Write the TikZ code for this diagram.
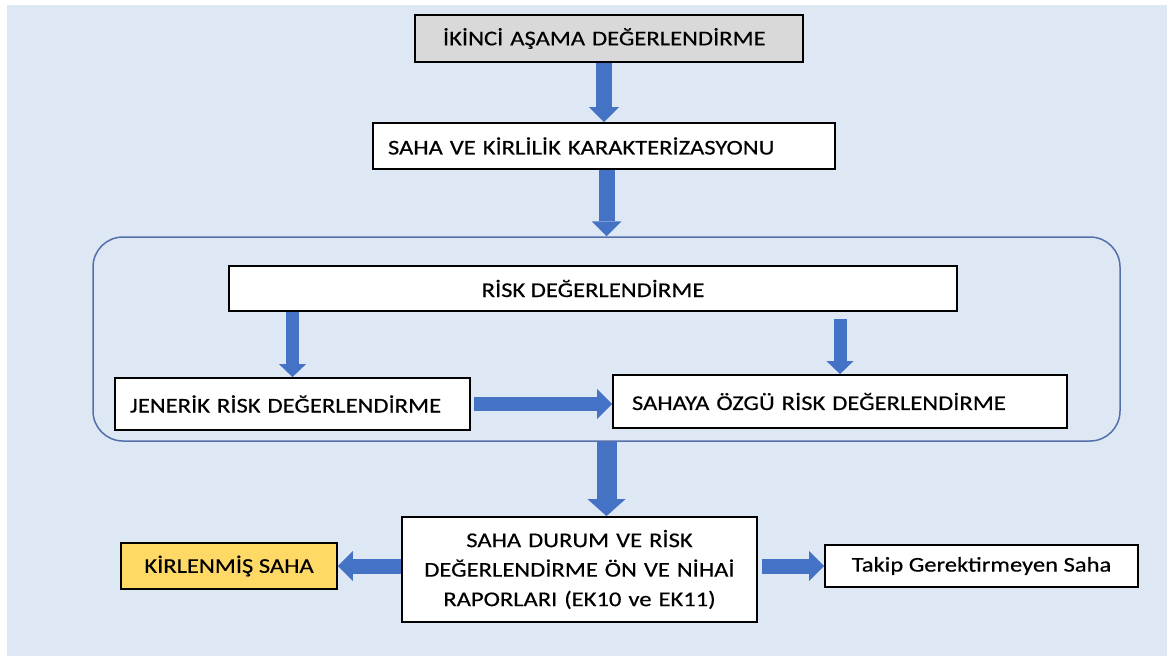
\documentclass[tikz,border=0pt]{standalone}
\usepackage{fontspec}
\setmainfont{Carlito}[FakeStretch=1.17,FakeBold=0.4]
\usetikzlibrary{arrows.meta,calc}
\definecolor{bgblue}{RGB}{222,232,244}
\definecolor{arrblue}{RGB}{68,114,196}
\definecolor{framecol}{RGB}{84,112,170}
\definecolor{boxgray}{RGB}{217,217,217}
\definecolor{goldbox}{RGB}{255,217,102}

\begin{document}
\begin{tikzpicture}[
  x=1pt,y=-1pt,
  font=\fontsize{21}{29.5}\selectfont,
  phase/.style={draw=black,line width=1.8pt,fill=white,align=left,inner ysep=2pt},
  frame/.style={draw=framecol,line width=1.5pt,rounded corners=30pt},
  blockarr/.style={draw=arrblue,line width=15pt,-{Triangle[length=15pt,width=30pt,line width=0pt]}},
]
\useasboundingbox (0,0) rectangle (1167,656);
\fill[bgblue] (7,5) rectangle (1167,656);

% ---- top chain ----
\node[phase,fill=boxgray,text width=332pt,inner xsep=28pt,minimum height=47pt] (ikinci) at (609,38.5)
  {İKİNCİ AŞAMA DEĞERLENDİRME};
\node[phase,text width=432pt,inner xsep=15pt,minimum height=46pt] (saha) at (604,146)
  {SAHA VE KİRLİLİK KARAKTERİZASYONU};
\draw[blockarr,line width=16pt] (ikinci.south -| saha.north) -- (saha.north);

% ---- risk group ----
\node[frame,minimum width=1027pt,minimum height=204pt] (grup) at (606.5,339) {};
\draw[blockarr,line width=16pt] (saha.south -| grup.north) -- (grup.north);
\node[phase,align=center,minimum width=728pt,minimum height=45pt] (risk) at (593,288.5)
  {RİSK DEĞERLENDİRME};
\node[phase,text width=325pt,inner xsep=15pt,minimum height=52pt] (jenerik) at (292.5,404)
  {JENERİK RİSK DEĞERLENDİRME};
\node[phase,text width=416pt,inner xsep=19pt,minimum height=53pt] (ozgu) at (840,401.5)
  {SAHAYA ÖZGÜ RİSK DEĞERLENDİRME};
\draw[blockarr,line width=13pt,-{Triangle[length=13pt,width=27pt,line width=0pt]}]
  (risk.south -| jenerik.north) -- (jenerik.north);
\draw[blockarr,line width=13pt,-{Triangle[length=13pt,width=27pt,line width=0pt]},shorten <=7pt]
  (risk.south -| ozgu.north) -- (ozgu.north);
\draw[blockarr,line width=14pt,shorten <=3pt] (jenerik.east) -- (jenerik.east -| ozgu.west);

% ---- reports ----
\node[phase,align=center,text width=335pt,inner xsep=10pt,minimum height=105pt] (rapor) at (579.5,569.5)
  {SAHA DURUM VE RİSK\\DEĞERLENDİRME ÖN VE NİHAİ\\RAPORLARI (EK10 ve EK11)};
\node[phase,fill=goldbox,align=center,minimum width=216pt,minimum height=46pt] (kirli) at (229,566)
  {KİRLENMİŞ SAHA};
\node[phase,align=center,minimum width=313pt,minimum height=42pt] (takip) at (981.5,566)
  {Takip Gerektirmeyen Saha};
\draw[blockarr,line width=20pt,-{Triangle[length=17pt,width=38pt,line width=0pt]}]
  (grup.south) -- (grup.south |- rapor.north);
\draw[blockarr] (rapor.west |- kirli.east) -- (kirli.east);
\draw[blockarr,shorten <=4pt] (rapor.east |- takip.west) -- (takip.west);
\end{tikzpicture}
\end{document}
